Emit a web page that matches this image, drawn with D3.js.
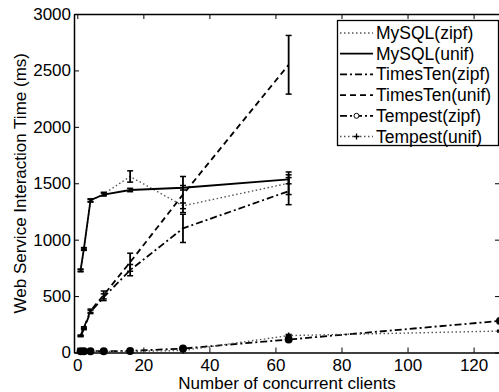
<!DOCTYPE html>
<html>
<head>
<meta charset="utf-8">
<script src="https://cdn.jsdelivr.net/npm/d3@7"></script>
<style>
  body { margin: 0; background: #fff; }
  text { font-family: "Liberation Sans", Arial, sans-serif; fill: #000; }
</style>
</head>
<body>
<div id="chart"></div>
<script>
// client counts (x values)
var clients = [1, 2, 4, 8, 16, 32, 64];
var clientsTempest = [1, 2, 4, 8, 16, 32, 64, 128];

// response times in ms, with +/- error
var mysqlZipf = [725, 915, 1345, 1405, 1560, 1300, 1500];
var mysqlZipfErr = [10, 10, 12, 15, 50, 25, 100];
var mysqlUnif = [730, 920, 1350, 1400, 1440, 1460, 1535];
var mysqlUnifErr = [10, 10, 12, 12, 15, 20, 40];
var timestenZipf = [145, 210, 360, 490, 730, 1100, 1430];
var timestenZipfErr = [5, 8, 15, 30, 50, 125, 120];
var timestenUnif = [150, 220, 370, 510, 800, 1400, 2550];
var timestenUnifErr = [5, 8, 15, 35, 80, 160, 260];
var tempestZipf = [12, 12, 12, 12, 14, 35, 115, 280];
var tempestZipfErr = [3, 3, 3, 3, 3, 5, 10, 10];
var tempestUnif = [8, 8, 8, 8, 10, 18, 150, 190];
var tempestUnifErr = [3, 3, 3, 3, 3, 4, 10, 8];

var xTicks = [0, 20, 40, 60, 80, 100, 120];
var yTicks = [0, 500, 1000, 1500, 2000, 2500, 3000];

var seriesNames = ["MySQL(zipf)", "MySQL(unif)", "TimesTen(zipf)", "TimesTen(unif)", "Tempest(zipf)", "Tempest(unif)"];

function drawChart()
{
    var width = 499;
    var height = 392;

    var left = 74, right = 500, top = 14, bottom = 352.5;

    var svg = d3.select("#chart")
        .append("svg")
        .attr("width", width)
        .attr("height", height);

    var x = d3.scaleLinear().domain([-1, 128]).range([left, right]);
    var y = d3.scaleLinear().domain([0, 3000]).range([bottom, top]);

    // line styles for each series
    var styles = [
        { dash: "1.5,2.5", w: 1.4, color: "#555", marker: null },
        { dash: null, w: 1.8, color: "#000", marker: null },
        { dash: "7,3,2,3", w: 1.8, color: "#000", marker: null },
        { dash: "6,4", w: 1.8, color: "#000", marker: null },
        { dash: "7,3,2,3", w: 1.8, color: "#000", marker: "circle" },
        { dash: "1.5,2.5", w: 1.4, color: "#555", marker: "plus" }
    ];

    var series = [
        { xs: clients, ys: mysqlZipf, err: mysqlZipfErr },
        { xs: clients, ys: mysqlUnif, err: mysqlUnifErr },
        { xs: clients, ys: timestenZipf, err: timestenZipfErr },
        { xs: clients, ys: timestenUnif, err: timestenUnifErr },
        { xs: clientsTempest, ys: tempestZipf, err: tempestZipfErr },
        { xs: clientsTempest, ys: tempestUnif, err: tempestUnifErr }
    ];

    var line = d3.line()
        .x(function(d) { return x(d[0]); })
        .y(function(d) { return y(d[1]); });

    var plot = svg.append("g");

    series.forEach(function(s, i) {
        var pts = s.xs.map(function(v, j) { return [v, s.ys[j], s.err[j]]; });
        var st = styles[i];

        plot.append("path")
            .attr("d", line(pts))
            .attr("fill", "none")
            .attr("stroke", st.color)
            .attr("stroke-width", st.w)
            .attr("stroke-dasharray", st.dash);

        // error bars
        var eb = plot.append("g");
        pts.forEach(function(p) {
            var cx = x(p[0]);
            eb.append("line")
                .attr("x1", cx).attr("x2", cx)
                .attr("y1", y(p[1] - p[2])).attr("y2", y(p[1] + p[2]))
                .attr("stroke", "#000").attr("stroke-width", 1.8);
            [p[1] - p[2], p[1] + p[2]].forEach(function(v) {
                eb.append("line")
                    .attr("x1", cx - 3).attr("x2", cx + 3)
                    .attr("y1", y(v)).attr("y2", y(v))
                    .attr("stroke", "#000").attr("stroke-width", 1.5);
            });
        });

        if (st.marker == "circle") {
            plot.selectAll(null)
                .data(pts)
                .enter()
                .append("circle")
                .attr("cx", function(d) { return x(d[0]); })
                .attr("cy", function(d) { return y(d[1]); })
                .attr("r", 4)
                .attr("fill", "#000");
        }
        if (st.marker == "plus") {
            pts.forEach(function(p) {
                var cx = x(p[0]), cy = y(p[1]);
                plot.append("path")
                    .attr("d", "M" + (cx - 3) + "," + cy + "H" + (cx + 3) + "M" + cx + "," + (cy - 3) + "V" + (cy + 3))
                    .attr("stroke", "#000").attr("stroke-width", 1.5);
            });
        }
    });

    // axes box with inward ticks on all four sides
    var axisStyle = function(g) {
        g.select(".domain").attr("stroke-width", 1.5);
        g.selectAll(".tick line").attr("stroke-width", 1);
        g.selectAll(".tick text").style("font-size", "17px");
    };

    svg.append("g")
        .attr("transform", "translate(0," + bottom + ")")
        .call(d3.axisBottom(x).tickValues(xTicks).tickFormat(d3.format("d")).tickSizeInner(-5).tickSizeOuter(0).tickPadding(6))
        .call(axisStyle);
    svg.append("g")
        .attr("transform", "translate(0," + top + ")")
        .call(d3.axisTop(x).tickValues(xTicks).tickSizeInner(-5).tickSizeOuter(0).tickFormat(""))
        .call(axisStyle);
    svg.append("g")
        .attr("transform", "translate(" + left + ",0)")
        .call(d3.axisLeft(y).tickValues(yTicks).tickFormat(d3.format("d")).tickSizeInner(-5).tickSizeOuter(0).tickPadding(3))
        .call(axisStyle);
    svg.append("g")
        .attr("transform", "translate(" + right + ",0)")
        .call(d3.axisRight(y).tickValues(yTicks).tickSizeInner(-5).tickSizeOuter(0).tickFormat(""))
        .call(axisStyle);

    svg.selectAll(".tick text").attr("fill", "#000");

    // axis labels
    svg.append("text")
        .attr("x", (left + right) / 2)
        .attr("y", 389)
        .attr("text-anchor", "middle")
        .style("font-size", "17px")
        .text("Number of concurrent clients");

    svg.append("text")
        .attr("transform", "translate(26," + ((top + bottom) / 2) + ") rotate(-90)")
        .attr("text-anchor", "middle")
        .style("font-size", "17px")
        .text("Web Service Interaction Time (ms)");

    // legend
    var lg = svg.append("g");
    lg.append("rect")
        .attr("x", 337.5).attr("y", 20.5)
        .attr("width", 161).attr("height", 125)
        .attr("fill", "#fff")
        .attr("stroke", "#000")
        .attr("stroke-width", 1.3);

    seriesNames.forEach(function(name, i) {
        var st = styles[i];
        var ly = 33 + i * 20.7;
        lg.append("line")
            .attr("x1", 340).attr("x2", 373)
            .attr("y1", ly).attr("y2", ly)
            .attr("stroke", st.color)
            .attr("stroke-width", st.w)
            .attr("stroke-dasharray", st.dash);
        if (st.marker == "circle") {
            lg.append("circle")
                .attr("cx", 356.5).attr("cy", ly).attr("r", 2.5)
                .attr("fill", "#fff").attr("stroke", "#000").attr("stroke-width", 1);
        }
        if (st.marker == "plus") {
            lg.append("path")
                .attr("d", "M353.5," + ly + "H359.5M356.5," + (ly - 3) + "V" + (ly + 3))
                .attr("stroke", "#000").attr("stroke-width", 1.3);
        }
        lg.append("text")
            .attr("x", 376)
            .attr("y", ly + 6)
            .style("font-size", "17.5px")
            .text(name);
    });
}

drawChart();
</script>
</body>
</html>
